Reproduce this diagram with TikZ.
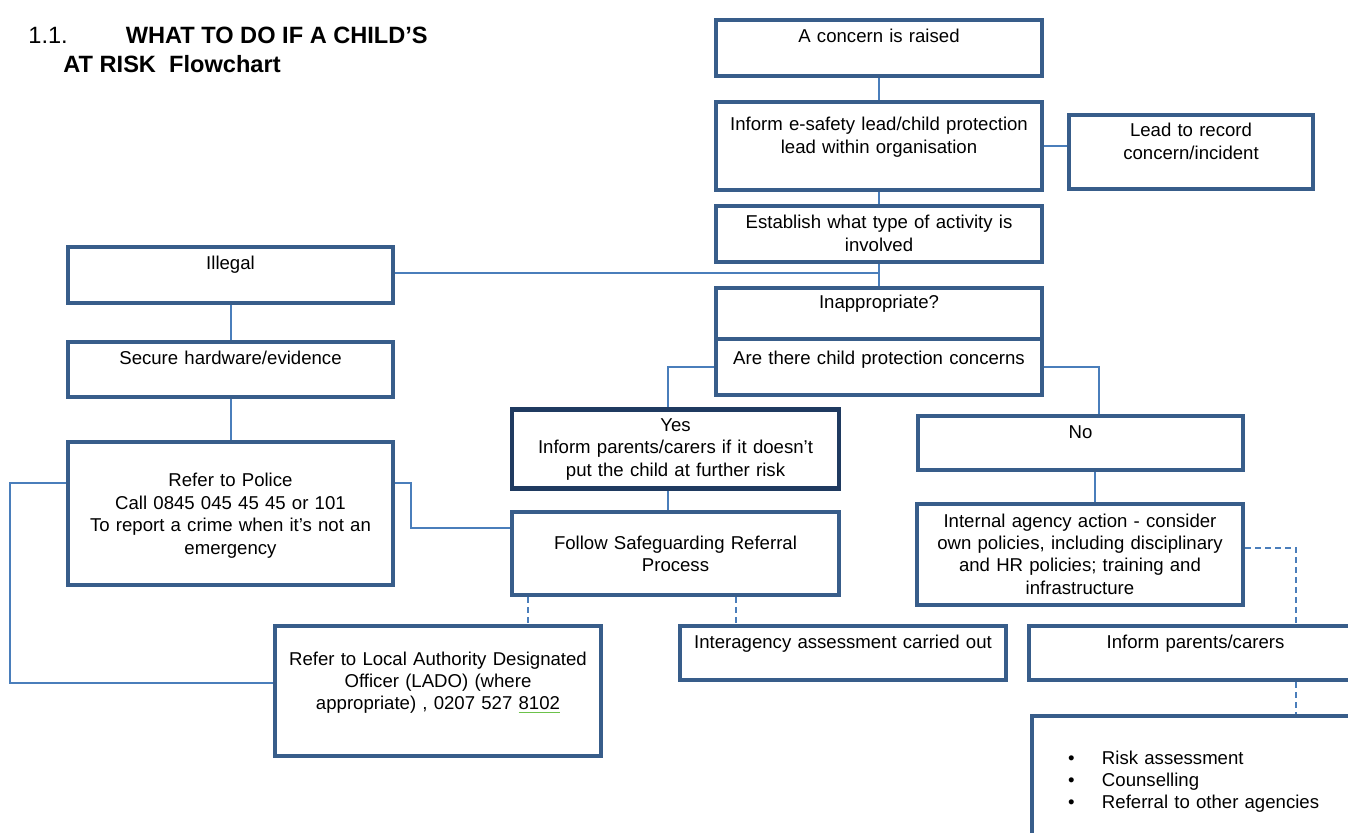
\documentclass[tikz,border=0pt]{standalone}
\usepackage{fontspec}
\setmainfont{Liberation Sans}
\usepackage{tikz}

\definecolor{boxline}{HTML}{385D8A}
\definecolor{yesline}{HTML}{1F3A60}
\definecolor{linkline}{HTML}{4A7EBB}
\definecolor{checkgreen}{HTML}{6CC24A}

\begin{document}
\begin{tikzpicture}[x=0.5pt, y=-0.5pt,
    every node/.style={font=\fontsize{9.3}{11.2}\selectfont},
    box/.style={draw=boxline, line width=2pt, fill=white, inner sep=0pt,
        anchor=north, align=center, text width=#1},
    box/.default=163pt,
    heading/.style={anchor=base west, inner sep=0pt, font=\fontsize{11.8}{14}\selectfont},
    link/.style={draw=linkline, line width=1pt},
    dlink/.style={link, dash pattern=on 3pt off 2pt}
]
\clip (0,0) rectangle (1348,833);
\fill[white] (0,0) rectangle (1348,833);

% title
\node[heading] (title) at (28,44) {1.1.\hspace{29pt}\textbf{WHAT TO DO IF A CHILD’S}};
\node[heading] (title2) at (63,73) {\textbf{AT RISK\ \ Flowchart}};

% centre column
\node[box, text height=11.5pt, text depth=16.5pt] (concern) at (879,18) {A concern is raised};
\node[box, text height=14.5pt, text depth=29.5pt] (inform) at (879,100)
    {Inform e-safety lead/child protection\\lead within organisation};
\node[box=122pt, text height=11pt, text depth=26pt] (lead) at (1191,113)
    {Lead to record\\concern/incident};
\node[box, text height=11.5pt, text depth=16.5pt] (establish) at (879,204)
    {Establish what type of activity is\\involved};
\node[box, text height=10.5pt, text depth=15pt] (inappropriate) at (879,286) {Inappropriate?};
\node[box, text height=13pt, text depth=15pt] (concerns) at (879,337)
    {Are there child protection concerns};

% illegal branch
\node[box=162.5pt, text height=11.5pt, text depth=16.5pt] (illegal) at (230.5,245) {Illegal};
\node[box=162.5pt, text height=11.5pt, text depth=16pt] (secure) at (230.5,340)
    {Secure hardware/evidence};
\node[box=162.5pt, text height=22.5pt, text depth=49pt] (police) at (230.5,440)
    {Refer to Police\\Call 0845 045 45 45 or 101\\To report a crime when it’s not an\\emergency};
\node[box, text height=19.5pt, text depth=45.5pt] (lado) at (438,624)
    {Refer to Local Authority Designated\\Officer (LADO) (where\\appropriate) , 0207 527
    {\color{checkgreen}\underline{\color{black}8102}}};

% yes / no
\node[box=163.5pt, draw=yesline, line width=2.4pt, text height=11pt, text depth=28.5pt] (yes) at (675.5,407)
    {Yes\\Inform parents/carers if it doesn’t\\put the child at further risk};
\node[box=163.5pt, text height=18.5pt, text depth=23pt] (follow) at (675.5,510)
    {Follow Safeguarding Referral\\Process};
\node[box=162.5pt, text height=11.5pt, text depth=15.5pt] (no) at (1080.5,414) {No};
\node[box, text height=11.5pt, text depth=39pt] (internal) at (1080,502)
    {Internal agency action - consider\\own policies, including disciplinary\\and HR policies; training and\\infrastructure};
\node[box, text height=11pt, text depth=16pt] (interagency) at (843,624)
    {Interagency assessment carried out};
\node[box=166.5pt, text height=11pt, text depth=16pt] (parents) at (1195.5,624)
    {Inform parents/carers};
\node[box=165pt, align=left, text height=24pt, text depth=44pt] (bullets) at (1197,714)
    {\hspace*{18pt}\makebox[17pt][l]{\textbullet}Risk assessment\\
     \hspace*{18pt}\makebox[17pt][l]{\textbullet}Counselling\\
     \hspace*{18pt}\makebox[17pt][l]{\textbullet}Referral to other agencies};

% connectors
\draw[link] (concern) -- (inform);
\draw[link] (inform.east) -- (inform.east -| lead.west);
\draw[link] (inform) -- (establish);
\draw[link] (establish) -- (inappropriate);
\draw[link] ([yshift=1pt]illegal.east) -- ([yshift=1pt]illegal.east -| establish.south);
\draw[link] (illegal) -- (secure);
\draw[link] (secure) -- (police);
\draw[link] (concerns.west) -| ([xshift=-4pt]yes.north);
\draw[link] (concerns.east) -| ([xshift=9pt]no.north);
\draw[link] ([xshift=-4pt]yes.south) -- ([xshift=-4pt]follow.north);
\draw[link] ([yshift=15pt]police.east) -- ++(16,0) |- ([yshift=13pt]follow.west);
\draw[link] ([yshift=15pt]police.west) -- ++(-56,0) |- ([yshift=4pt]lado.west);
\draw[dlink] ([xshift=-74pt]follow.south) -- ([xshift=-74pt]follow.south |- lado.north);
\draw[dlink] ([xshift=30pt]follow.south) -- ([xshift=30pt]follow.south |- interagency.north);
\draw[link] ([xshift=7pt]no.south) -- ([xshift=7pt]no.south |- internal.north);
\draw[dlink] ([yshift=3.5pt]internal.east) -| ([xshift=50pt]parents.north);
\draw[dlink] ([xshift=50pt]parents.south) -- ([xshift=50pt]parents.south |- bullets.north);
\end{tikzpicture}
\end{document}
